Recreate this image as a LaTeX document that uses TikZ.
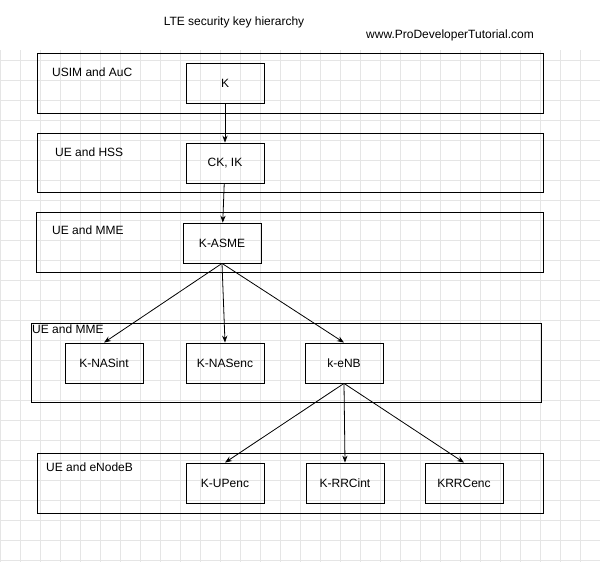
\documentclass[tikz,border=0pt]{standalone}
\usepackage{fontspec}
\setmainfont{Liberation Sans}
\usetikzlibrary{arrows.meta, positioning}
\tikzset{
    band/.style={rectangle, draw, thick, minimum height=60pt, anchor=north west, inner sep=0pt},
    key/.style={rectangle, draw, thick, minimum width=78pt, minimum height=40pt, font=\fontsize{12}{14}\selectfont},
    bandlabel/.style={anchor=north west, inner sep=0pt, font=\fontsize{12}{14}\selectfont},
    arrow/.style={thick, -{Stealth[length=7pt]}}
}

\begin{document}
\begin{tikzpicture}[x=1pt, y=-1pt]
    \useasboundingbox (0,0) rectangle (600,562);
    % background grid
    \draw[black!10, step=20pt] (0,0) grid (600,562);
    \fill[white] (0,0) rectangle (600,50);

    % Titles
    \node[font=\fontsize{12}{14}\selectfont] (title) at (234,22) {LTE security key hierarchy};
    \node[font=\fontsize{12}{14}\selectfont] (web) at (450,35) {www.ProDeveloperTutorial.com};

    % Bands
    \node[band, minimum width=506pt] (b1) at (37,53) {};
    \node[band, minimum width=506pt, minimum height=59pt] (b2) at (37,133) {};
    \node[band, minimum width=507pt] (b3) at (36,212) {};
    \node[band, minimum width=510pt, minimum height=79pt] (b4) at (31,323) {};
    \node[band, minimum width=506pt] (b5) at (37,453) {};

    \node[bandlabel] (l1) at (52,68) {USIM and AuC};
    \node[bandlabel] (l2) at (55,148) {UE and HSS};
    \node[bandlabel] (l3) at (52,226) {UE and MME};
    \node[bandlabel] (l4) at (32,325) {UE and MME};
    \node[bandlabel] (l5) at (46,463) {UE and eNodeB};

    % Keys
    \node[key] (K) at (225,83) {K};
    \node[key] (CKIK) at (225,163) {CK, IK};
    \node[key] (KASME) at (222,243) {K-ASME};
    \node[key] (NASint) at (104,363) {K-NASint};
    \node[key] (NASenc) at (225,363) {K-NASenc};
    \node[key] (KeNB) at (344,363) {k-eNB};
    \node[key] (UPenc) at (225,483) {K-UPenc};
    \node[key] (RRCint) at (345,483) {K-RRCint};
    \node[key] (RRCenc) at (464,483) {KRRCenc};

    % Arrows
    \draw[arrow] (K) -- (CKIK);
    \draw[arrow] (CKIK) -- (KASME);
    \draw[arrow] (KASME.south) -- (NASint.north);
    \draw[arrow] (KASME.south) -- (NASenc.north);
    \draw[arrow] (KASME.south) -- (KeNB.north);
    \draw[arrow] (KeNB.south) -- (UPenc.north);
    \draw[arrow] (KeNB.south) -- (RRCint.north);
    \draw[arrow] (KeNB.south) -- (RRCenc.north);

\end{tikzpicture}
\end{document}
